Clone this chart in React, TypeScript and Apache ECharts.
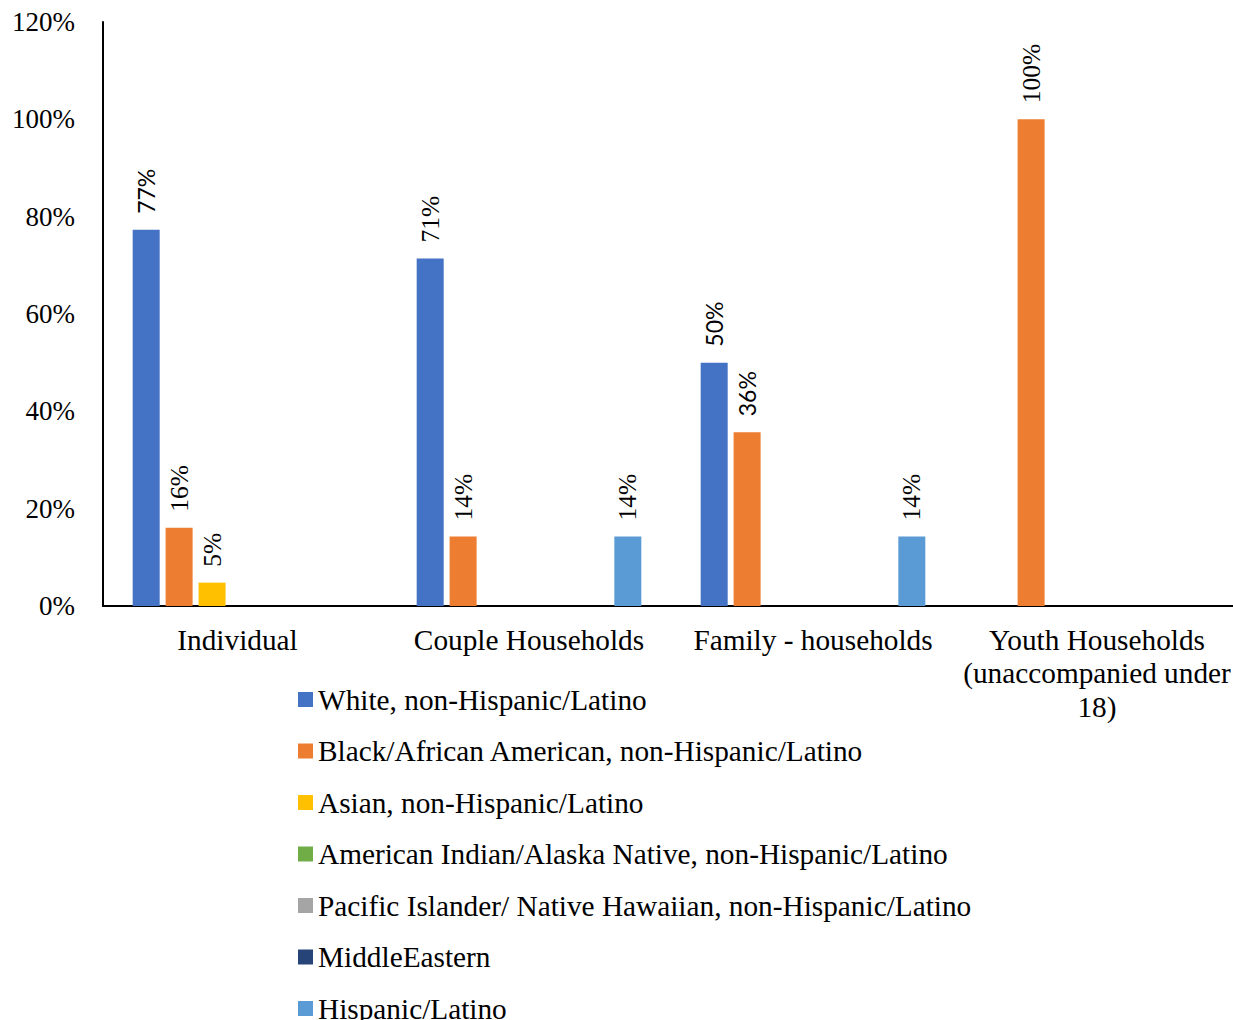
import React, { useEffect, useRef } from "react";
import * as echarts from "echarts";

const categories = [
  "Individual",
  "Couple Households",
  "Family - households",
  "Youth Households (unaccompanied under 18)",
];

const seriesNames = [
  "White, non-Hispanic/Latino",
  "Black/African American, non-Hispanic/Latino",
  "Asian, non-Hispanic/Latino",
  "American Indian/Alaska Native, non-Hispanic/Latino",
  "Pacific Islander/ Native Hawaiian, non-Hispanic/Latino",
  "MiddleEastern",
  "Hispanic/Latino",
];

const white = [77.3, 71.4, 50.0, null];
const black = [16.1, 14.3, 35.7, 100];
const asian = [4.8, null, null, null];
const americanIndian = [null, null, null, null];
const pacificIslander = [null, null, null, null];
const middleEastern = [null, null, null, null];
const hispanic = [null, 14.3, 14.3, null];

const seriesValues = [white, black, asian, americanIndian, pacificIslander, middleEastern, hispanic];

const colors = ["#4472C4", "#ED7D31", "#FFC000", "#70AD47", "#A5A5A5", "#264478", "#5B9BD5"];

const yMin = 0;
const yMax = 120;
const yInterval = 20;

// labels that the reference draws in a sans-serif face: [series index, category index]
const sansLabelKeys = ["0-0", "0-2", "1-2"];

const SERIF = "'Liberation Serif', 'Times New Roman', serif";
const SANS = "Lato, 'Liberation Sans', sans-serif";

export default function App() {
  const ref = useRef<HTMLDivElement>(null);

  useEffect(() => {
    const chart = echarts.init(ref.current!, null, { renderer: "svg" });

    const series = seriesNames.map((name, si) => ({
      name,
      type: "bar",
      barWidth: 27,
      barGap: "22%",
      itemStyle: { color: colors[si] },
      label: {
        show: true,
        position: "top",
        rotate: 90,
        align: "left",
        verticalAlign: "middle",
        distance: 16,
        fontSize: 25.5,
        fontFamily: SERIF,
        color: "#000",
        formatter: (p: any) => (p.value == null ? "" : Math.round(p.value) + "%"),
      },
      data: seriesValues[si].map((v, ci) =>
        sansLabelKeys.includes(si + "-" + ci)
          ? { value: v, label: { fontFamily: SANS, fontSize: 23 } }
          : v
      ),
    }));

    const legends = seriesNames.map((name, i) => ({
      data: [name],
      orient: "vertical",
      left: 298,
      top: 699.5 + i * 51.5 - 15,
      padding: 0,
      itemWidth: 15,
      itemHeight: 15,
      icon: "rect",
      selectedMode: false,
      textStyle: { fontSize: 29.3, fontFamily: SERIF, color: "#000", lineHeight: 30 },
    }));

    const option: any = {
      animation: false,
      backgroundColor: "#fff",
      grid: { left: 103, right: 0, top: 22, bottom: 414, containLabel: false },
      legend: legends,
      xAxis: {
        type: "category",
        data: categories,
        axisTick: { show: false },
        axisLine: { show: true, lineStyle: { color: "#000", width: 2 } },
        axisLabel: {
          interval: 0,
          margin: 17,
          fontSize: 29.3,
          lineHeight: 33.5,
          fontFamily: SERIF,
          color: "#000",
          formatter: (v: string) => {
            if (v === categories[0]) return "{ind|" + v + "}";
            return v.replace(" (", "\n(").replace(" 18)", "\n18)");
          },
          rich: {
            ind: { fontSize: 29.3, lineHeight: 33.5, fontFamily: SERIF, color: "#000", padding: [0, 15, 0, 0] },
          },
        },
      },
      yAxis: {
        type: "value",
        min: yMin,
        max: yMax,
        interval: yInterval,
        axisLine: { show: true, lineStyle: { color: "#000", width: 2 } },
        axisTick: { show: false },
        splitLine: { show: false },
        axisLabel: {
          margin: 28,
          fontSize: 27,
          fontFamily: SERIF,
          color: "#000",
          formatter: (v: number) => v + "%",
        },
      },
      series,
    };

    chart.setOption(option);
    return () => chart.dispose();
  }, []);

  return (
    <div
      ref={ref}
      style={{ position: "fixed", left: 0, top: 0, width: 1239, height: 1020, background: "#fff" }}
    />
  );
}
